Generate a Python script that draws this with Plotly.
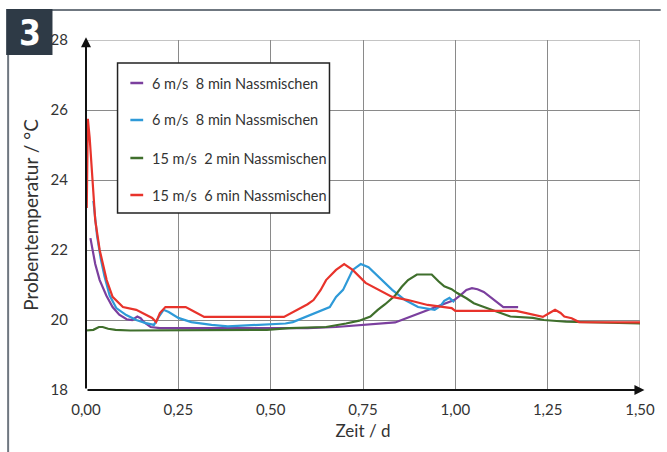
import plotly.graph_objects as go

# ---- data ----
series_names = [
    "6 m/s  8 min Nassmischen",
    "6 m/s  8 min Nassmischen",
    "15 m/s  2 min Nassmischen",
    "15 m/s  6 min Nassmischen",
]
series_colors = ["#7b3f9e", "#2e9ad8", "#3f6f2c", "#e8332b"]

purple_t = [0.012, 0.025, 0.037, 0.055, 0.072, 0.09, 0.11, 0.125, 0.139, 0.148, 0.157, 0.175, 0.2, 0.3, 0.4, 0.5, 0.6, 0.677, 0.75, 0.8, 0.837, 0.86, 0.89, 0.915, 0.944, 0.97, 0.997, 1.015, 1.03, 1.045, 1.06, 1.077, 1.095, 1.112, 1.13, 1.17]
purple_v = [22.34, 21.6, 21.14, 20.7, 20.37, 20.15, 20.02, 20.0, 20.1, 20.05, 19.94, 19.8, 19.77, 19.77, 19.76, 19.76, 19.77, 19.8, 19.86, 19.9, 19.93, 20.02, 20.14, 20.25, 20.37, 20.47, 20.57, 20.72, 20.86, 20.91, 20.88, 20.8, 20.65, 20.51, 20.37, 20.37]

blue_t = [0.02, 0.03, 0.04, 0.05, 0.064, 0.082, 0.109, 0.136, 0.162, 0.184, 0.197, 0.21, 0.224, 0.25, 0.285, 0.34, 0.384, 0.45, 0.54, 0.56, 0.605, 0.64, 0.66, 0.677, 0.696, 0.722, 0.744, 0.765, 0.792, 0.829, 0.864, 0.899, 0.944, 0.96, 0.97, 0.984, 0.997]
blue_v = [23.4, 22.4, 21.75, 21.25, 20.7, 20.34, 20.14, 20.0, 19.91, 19.86, 20.09, 20.29, 20.23, 20.06, 19.94, 19.86, 19.82, 19.85, 19.9, 19.94, 20.14, 20.29, 20.37, 20.66, 20.86, 21.43, 21.6, 21.51, 21.23, 20.86, 20.57, 20.37, 20.29, 20.4, 20.55, 20.63, 20.51]

green_t = [0.0, 0.02, 0.035, 0.045, 0.06, 0.08, 0.12, 0.3, 0.49, 0.55, 0.65, 0.704, 0.74, 0.77, 0.79, 0.81, 0.837, 0.855, 0.872, 0.896, 0.936, 0.955, 0.97, 0.99, 1.005, 1.03, 1.05, 1.07, 1.10, 1.13, 1.149, 1.21, 1.24, 1.3, 1.4, 1.5]
green_v = [19.7, 19.72, 19.8, 19.8, 19.75, 19.72, 19.7, 19.7, 19.72, 19.77, 19.8, 19.9, 19.98, 20.1, 20.29, 20.45, 20.7, 20.95, 21.14, 21.3, 21.3, 21.1, 20.96, 20.88, 20.77, 20.62, 20.48, 20.4, 20.29, 20.18, 20.1, 20.06, 20.0, 19.95, 19.92, 19.9]

red_t = [0.002, 0.005, 0.01, 0.015, 0.02, 0.025, 0.037, 0.056, 0.072, 0.1, 0.136, 0.162, 0.179, 0.19, 0.2, 0.215, 0.27, 0.295, 0.32, 0.536, 0.57, 0.6, 0.616, 0.635, 0.65, 0.677, 0.699, 0.722, 0.757, 0.792, 0.829, 0.872, 0.925, 0.99, 1.0, 1.165, 1.19, 1.237, 1.255, 1.27, 1.285, 1.295, 1.315, 1.335, 1.5]
red_v = [23.2, 25.75, 25.2, 24.3, 23.5, 22.85, 22.0, 21.14, 20.66, 20.37, 20.29, 20.14, 20.06, 19.94, 20.2, 20.37, 20.37, 20.23, 20.09, 20.09, 20.29, 20.45, 20.57, 20.85, 21.14, 21.43, 21.6, 21.43, 21.06, 20.86, 20.66, 20.57, 20.43, 20.34, 20.26, 20.26, 20.2, 20.09, 20.2, 20.29, 20.2, 20.1, 20.05, 19.94, 19.93]

x_ticks = [0, 0.25, 0.5, 0.75, 1.0, 1.25, 1.5]
x_labels = ["0,00", "0,25", "0,50", "0,75", "1,00", "1,25", "1,50"]
y_ticks = [18, 20, 22, 24, 26, 28]

series = [(purple_t, purple_v), (blue_t, blue_v), (green_t, green_v), (red_t, red_v)]

FONT = "Lato"
TXT = "#333333"
GRID = "#8a8a8a"

W, H = 667, 452
L, R, T, B = 86, 19, 40, 62
PW, PH = W - L - R, H - T - B


def fx(p):  # pixel x -> paper x
    return (p - L) / PW


def fy(p):  # pixel y -> paper y
    return 1 - (p - T) / PH


fig = go.Figure()
for (t, v), name, col in zip(series, series_names, series_colors):
    fig.add_trace(go.Scatter(x=t, y=v, mode="lines", name=name,
                             line=dict(color=col, width=2.2), showlegend=False))

fig.update_layout(
    width=W, height=H,
    margin=dict(l=L, r=R, t=T, b=B),
    paper_bgcolor="white", plot_bgcolor="white",
    font=dict(family=FONT, color=TXT),
    xaxis=dict(range=[0, 1.5], tickvals=x_ticks, ticktext=x_labels,
               showgrid=True, gridcolor=GRID, gridwidth=1,
               zeroline=False, showline=False, ticks="", ticklabelstandoff=9,
               tickfont=dict(size=15, color=TXT),
               title=dict(text="Zeit / d", font=dict(size=17, color=TXT), standoff=8)),
    yaxis=dict(range=[18, 28], tickvals=y_ticks,
               showgrid=True, gridcolor=GRID, gridwidth=1,
               zeroline=False, showline=False, ticks="", ticklabelstandoff=17,
               tickfont=dict(size=15, color=TXT),
               title=dict(text="Probentemperatur / °C", font=dict(size=19, color=TXT), standoff=6)),
)

shapes = []
# edge gridlines (top 28 and right 1.50)
shapes.append(dict(type="line", xref="x", yref="y", x0=0, x1=x_ticks[-1], y0=y_ticks[-1], y1=y_ticks[-1],
                   line=dict(color=GRID, width=1), layer="below"))
shapes.append(dict(type="line", xref="x", yref="y", x0=x_ticks[-1], x1=x_ticks[-1], y0=y_ticks[0], y1=y_ticks[-1],
                   line=dict(color=GRID, width=1), layer="below"))
# legend box
shapes.append(dict(type="rect", xref="paper", yref="paper",
                   x0=fx(118), x1=fx(333), y0=fy(213), y1=fy(63),
                   line=dict(color="#222222", width=1.5), fillcolor="white", layer="above"))
leg_y = [83, 120, 158, 195]
for col, yy in zip(series_colors, leg_y):
    shapes.append(dict(type="line", xref="paper", yref="paper",
                       x0=fx(131), x1=fx(144), y0=fy(yy), y1=fy(yy),
                       line=dict(color=col, width=2.5), layer="above"))
# outer frame and badge
FRAME = "#6f7780"
shapes.append(dict(type="line", xref="paper", yref="paper", x0=fx(50), x1=fx(W + 2),
                   y0=fy(10), y1=fy(10), line=dict(color=FRAME, width=2)))
shapes.append(dict(type="line", xref="paper", yref="paper", x0=fx(7), x1=fx(7),
                   y0=fy(54), y1=fy(H + 2), line=dict(color=FRAME, width=2)))
shapes.append(dict(type="rect", xref="paper", yref="paper", x0=fx(5), x1=fx(52),
                   y0=fy(55), y1=fy(9), line=dict(width=0), fillcolor="#2e3a46"))
fig.update_layout(shapes=shapes)

# axis lines with arrows
fig.add_annotation(x=1.512, y=18, ax=0, ay=18, xref="x", yref="y", axref="x", ayref="y",
                   text="", showarrow=True, arrowhead=2, arrowsize=1, arrowwidth=2,
                   arrowcolor="#111111")
fig.add_annotation(x=0, y=28.08, ax=0, ay=18, xref="x", yref="y", axref="x", ayref="y",
                   text="", showarrow=True, arrowhead=2, arrowsize=1, arrowwidth=2,
                   arrowcolor="#111111")

for name, yy in zip(series_names, leg_y):
    fig.add_annotation(xref="paper", yref="paper", x=fx(151), y=fy(yy),
                       xanchor="left", yanchor="middle", text=name, showarrow=False,
                       font=dict(size=14.5, color=TXT, family=FONT))

fig.add_annotation(xref="paper", yref="paper", x=fx(29), y=fy(33), text="<b>3</b>",
                   showarrow=False, xanchor="center", yanchor="middle",
                   font=dict(size=35, color="white",
                             family="DejaVu Sans Condensed, Liberation Sans, sans-serif"))

fig.write_html("out.html")
